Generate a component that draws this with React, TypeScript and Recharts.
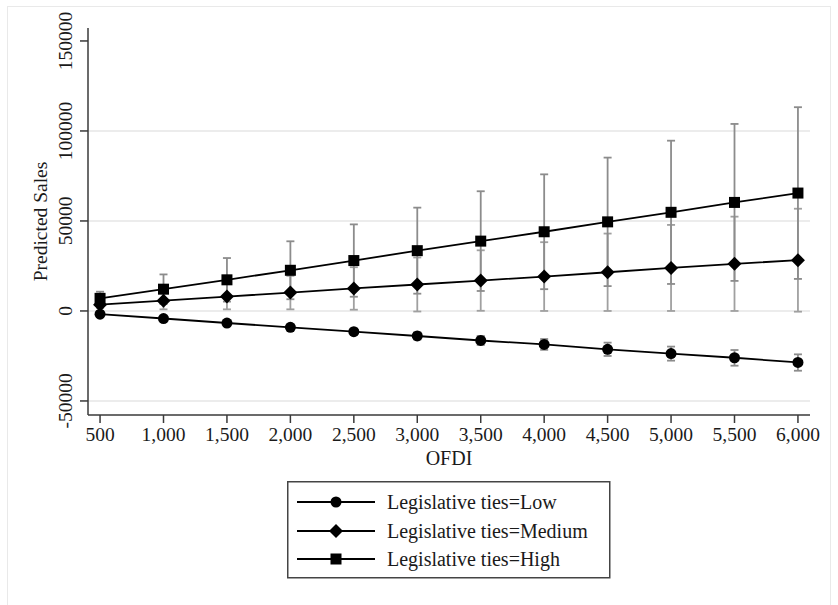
import {
  CartesianGrid,
  ComposedChart,
  ErrorBar,
  Legend,
  Line,
  XAxis,
  YAxis,
} from "recharts";

const ofdi = [500, 1000, 1500, 2000, 2500, 3000, 3500, 4000, 4500, 5000, 5500, 6000];

const low = [-1800, -4200, -6700, -9100, -11500, -13900, -16400, -18600, -21300, -23700, -26000, -28600];
const lowUpper = [-1500, -3500, -5700, -7700, -9900, -11900, -13900, -15600, -17600, -19800, -21700, -24100];
const lowLower = [-2100, -4900, -7700, -10500, -13100, -15900, -18900, -21600, -25000, -27600, -30400, -33200];

const medium = [3500, 5700, 8000, 10200, 12500, 14700, 16900, 19100, 21500, 23900, 26200, 28200];
const mediumUpper = [5300, 10500, 15100, 19500, 24300, 29700, 33700, 38200, 43000, 47800, 52400, 56800];
const mediumLower = [1700, 900, 900, 900, 700, -300, 100, 0, 0, 0, 0, -400];

const high = [7000, 12100, 17300, 22600, 28000, 33500, 38800, 44000, 49500, 54800, 60300, 65500];
const highUpper = [10700, 20300, 29400, 38700, 48100, 57400, 66500, 75900, 85200, 94600, 103900, 113200];
const highLower = [3300, 3900, 5200, 6500, 7900, 9600, 11100, 12100, 13800, 15000, 16700, 17800];

const xTicks = [500, 1000, 1500, 2000, 2500, 3000, 3500, 4000, 4500, 5000, 5500, 6000];
const yTicks = [-50000, 0, 50000, 100000, 150000];
const gridValues = [-50000, 0, 50000, 100000];

const seriesNames = ["Legislative ties=Low", "Legislative ties=Medium", "Legislative ties=High"];

const data = ofdi.map((x, i) => ({
  x,
  low: low[i],
  lowErr: [low[i] - lowLower[i], lowUpper[i] - low[i]],
  medium: medium[i],
  mediumErr: [medium[i] - mediumLower[i], mediumUpper[i] - medium[i]],
  high: high[i],
  highErr: [high[i] - highLower[i], highUpper[i] - high[i]],
}));

const FONT = '"Liberation Serif", "Times New Roman", serif';
const TEXT = "#1a1a1a";
const AXIS = "#3a3a3a";

type Shape = "circle" | "diamond" | "square";

function Marker({ cx, cy, shape }: { cx: number; cy: number; shape: Shape }) {
  if (cx == null || cy == null) return null;
  if (shape === "circle") return <circle cx={cx} cy={cy} r={5.5} fill="#000" />;
  if (shape === "square")
    return <rect x={cx - 5.5} y={cy - 5.5} width={11} height={11} fill="#000" />;
  const d = 7;
  return (
    <path
      d={`M${cx},${cy - d}L${cx + d},${cy}L${cx},${cy + d}L${cx - d},${cy}Z`}
      fill="#000"
    />
  );
}

const dotFor = (shape: Shape) => (props: any) =>
  <Marker key={`${shape}-${props.index}`} cx={props.cx} cy={props.cy} shape={shape} />;

function YTick({ x, y, payload }: any) {
  const tx = 72;
  return (
    <text
      x={tx}
      y={y}
      transform={`rotate(-90, ${tx}, ${y})`}
      textAnchor="middle"
      fontFamily={FONT}
      fontSize={19.5}
      fill={TEXT}
    >
      {payload.value}
    </text>
  );
}

function LegendBox() {
  const shapes: Shape[] = ["circle", "diamond", "square"];
  const rows = [21, 50, 78];
  return (
    <svg width={324} height={98} style={{ display: "block" }}>
      <rect x={0.75} y={0.75} width={322} height={96} fill="#fff" stroke="#444" strokeWidth={1.5} />
      {shapes.map((s, i) => (
        <g key={s}>
          <line x1={10} x2={88} y1={rows[i]} y2={rows[i]} stroke="#000" strokeWidth={1.8} />
          <Marker cx={49} cy={rows[i]} shape={s} />
          <text
            x={100}
            y={rows[i] + 6.5}
            fontFamily={FONT}
            fontSize={20}
            fill={TEXT}
          >
            {seriesNames[i]}
          </text>
        </g>
      ))}
    </svg>
  );
}

export default function App() {
  return (
    <div style={{ position: "relative", width: 838, height: 605, background: "#fff" }}>
      <style>{`body{margin:0}`}</style>
      <div
        style={{
          position: "absolute",
          left: 7,
          top: 6,
          width: 824,
          height: 610,
          border: "1.5px solid #e9e9e9",
          boxSizing: "border-box",
        }}
      />
      <ComposedChart
        width={838}
        height={605}
        data={data}
        margin={{ top: 28, right: 28, left: 0, bottom: 130 }}
        style={{ position: "absolute", left: 0, top: 0 }}
      >
        <CartesianGrid
          vertical={false}
          horizontalValues={gridValues}
          stroke="#e6e6e6"
          strokeWidth={1.5}
        />
        <XAxis
          dataKey="x"
          type="number"
          domain={[405, 6095]}
          ticks={xTicks}
          allowDataOverflow
          height={60}
          tickSize={8}
          tickMargin={4}
          tickFormatter={(v: number) => v.toLocaleString("en-US")}
          tick={{ fontFamily: FONT, fontSize: 19.5, fill: TEXT }}
          stroke={AXIS}
          strokeWidth={1.5}
          label={{
            value: "OFDI",
            position: "insideBottom",
            offset: 10,
            fontFamily: FONT,
            fontSize: 20,
            fill: TEXT,
          }}
        />
        <YAxis
          type="number"
          domain={[-57800, 157200]}
          ticks={yTicks}
          allowDataOverflow
          width={88}
          tickSize={8}
          tick={<YTick />}
          stroke={AXIS}
          strokeWidth={1.5}
          label={{
            content: ({ viewBox }: any) => {
              const cy = viewBox.y + viewBox.height / 2;
              return (
                <text
                  x={47}
                  y={cy}
                  transform={`rotate(-90, 47, ${cy})`}
                  textAnchor="middle"
                  fontFamily={FONT}
                  fontSize={19.5}
                  fill={TEXT}
                >
                  Predicted Sales
                </text>
              );
            },
          }}
        />
        <Legend
          layout="horizontal"
          verticalAlign="middle"
          align="center"
          wrapperStyle={{ left: 287, top: 481, width: 324, height: 98 }}
          content={() => <LegendBox />}
        />
        <Line
          dataKey="low"
          name={seriesNames[0]}
          stroke="#000"
          strokeWidth={1.8}
          dot={dotFor("circle")}
          activeDot={false}
          isAnimationActive={false}
        >
          <ErrorBar dataKey="lowErr" width={4} stroke="#8c8c8c" strokeWidth={1.8} />
        </Line>
        <Line
          dataKey="medium"
          name={seriesNames[1]}
          stroke="#000"
          strokeWidth={1.8}
          dot={dotFor("diamond")}
          activeDot={false}
          isAnimationActive={false}
        >
          <ErrorBar dataKey="mediumErr" width={4} stroke="#a0a0a0" strokeWidth={1.8} />
        </Line>
        <Line
          dataKey="high"
          name={seriesNames[2]}
          stroke="#000"
          strokeWidth={1.8}
          dot={dotFor("square")}
          activeDot={false}
          isAnimationActive={false}
        >
          <ErrorBar dataKey="highErr" width={4} stroke="#8c8c8c" strokeWidth={1.8} />
        </Line>
      </ComposedChart>
    </div>
  );
}
